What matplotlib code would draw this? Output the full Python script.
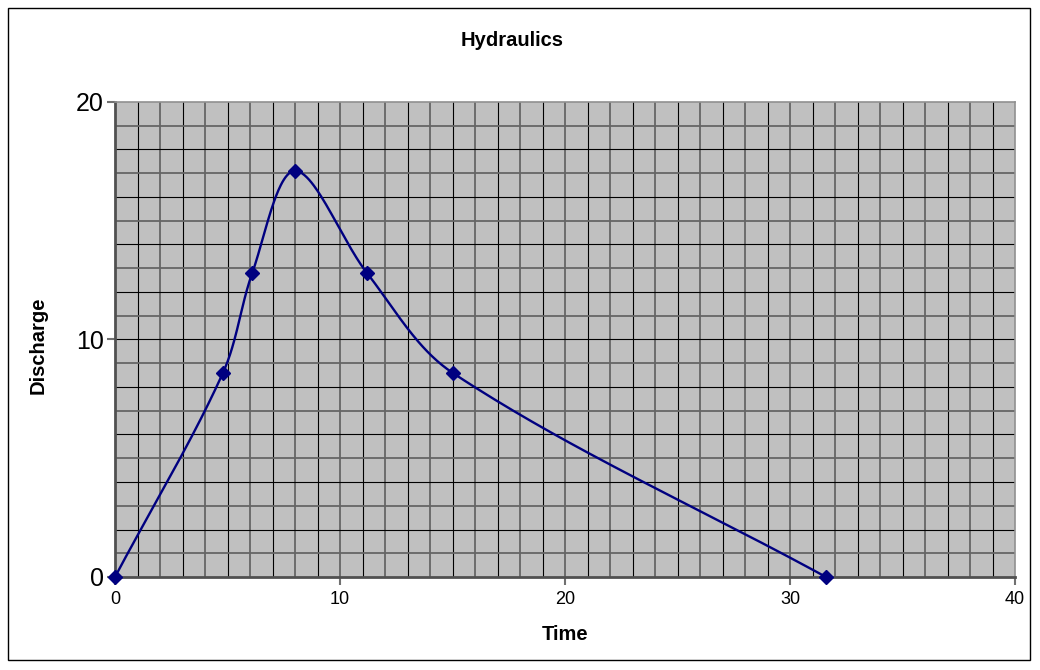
import numpy as np
import matplotlib
matplotlib.use("Agg")
import matplotlib.pyplot as plt
from matplotlib.patches import Rectangle
from matplotlib.ticker import MultipleLocator

time = [0.0, 4.8, 6.1, 8.0, 11.2, 15.0, 31.6]
discharge = [0.0, 8.6, 12.8, 17.1, 12.8, 8.6, 0.0]
x_ticks = [0, 10, 20, 30, 40]
y_ticks = [0, 10, 20]

navy = "#000080"
FONT = "Liberation Sans"

fig = plt.figure(figsize=(10.4, 6.7), dpi=100)
fig.patch.set_facecolor("white")
fig.add_artist(Rectangle((8 / 1040, 10 / 670), 1022 / 1040, 652 / 670,
                         transform=fig.transFigure, fill=False,
                         edgecolor="black", linewidth=1.0))

ax = fig.add_axes([115 / 1040, 93 / 670, 900 / 1040, 475 / 670])
ax.set_facecolor("#C0C0C0")
ax.set_xlim(0, 40)
ax.set_ylim(0, 20)
ax.set_xticks(x_ticks)
ax.set_yticks(y_ticks)

# grid lines: alternating gray and black
for v in range(1, 40):
    c, lw = ("#666666", 1.3) if v % 2 == 0 else ("black", 0.8)
    ax.axvline(v, color=c, lw=lw, zorder=1)
for v in range(1, 20):
    c, lw = ("#666666", 1.3) if v % 2 == 1 else ("black", 0.8)
    ax.axhline(v, color=c, lw=lw, zorder=1)

# Smoothed line through the data points (chord-length scaled Bezier, like Excel)
sx, sy = 22.5, 23.75
P = np.column_stack([np.array(time) * sx, np.array(discharge) * sy])
n = len(P)
t = np.linspace(0, 1, 60)
curve = []
def ctrl(i):
    """Return (before, after) control points for point i."""
    p1 = P[i]
    p0 = P[i - 1] if i > 0 else P[i]
    p2 = P[i + 1] if i + 1 < n else P[i]
    dp = np.linalg.norm(p1 - p0)
    dn = np.linalg.norm(p2 - p1)
    tot = dp + dn
    tan = (p2 - p0) / tot if tot > 0 else np.zeros(2)
    return p1 - tan * dp / 3, p1 + tan * dn / 3
for i in range(n - 1):
    _, c1 = ctrl(i)
    c2, _ = ctrl(i + 1)
    p1, p2 = P[i], P[i + 1]
    seg = ((1 - t) ** 3)[:, None] * p1 + (3 * (1 - t) ** 2 * t)[:, None] * c1 \
        + (3 * (1 - t) * t ** 2)[:, None] * c2 + (t ** 3)[:, None] * p2
    curve.append(seg)
curve = np.vstack(curve)
ax.plot(curve[:, 0] / sx, curve[:, 1] / sy, color=navy, lw=1.7, zorder=3,
        clip_on=False)
ax.plot(time, discharge, linestyle="none", marker="D", markersize=7.5,
        color=navy, zorder=4, clip_on=False)

for s in ax.spines.values():
    s.set_color("#909090")
    s.set_linewidth(1.2)
ax.spines["left"].set_color("#505050")
ax.spines["bottom"].set_color("#505050")
ax.spines["left"].set_linewidth(2)
ax.spines["bottom"].set_linewidth(2)

ax.tick_params(axis="y", direction="out", length=6, width=1.5, color="#707070",
               labelsize=18, pad=2)
ax.tick_params(axis="x", direction="out", length=6, width=1.5, color="#707070",
               labelsize=13, pad=4)
for lab in ax.get_xticklabels() + ax.get_yticklabels():
    lab.set_fontfamily(FONT)

bold = dict(family=FONT, fontweight="bold", fontsize=14.5)
fig.text(512 / 1040, 1 - 40 / 670, "Hydraulics", ha="center", va="center", **bold)
fig.text(565 / 1040, 1 - 634 / 670, "Time", ha="center", va="center", **bold)
fig.text(38 / 1040, 1 - 345 / 670, "Discharge", ha="center", va="center",
         rotation=90, **bold)

fig.savefig("out.png", dpi=100)
